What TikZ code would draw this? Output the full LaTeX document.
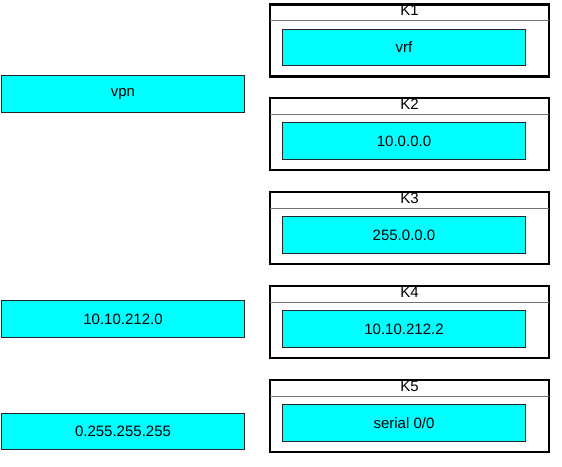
\documentclass[tikz,border=0pt]{standalone}
\usepackage{fontspec}
\setmainfont{Liberation Sans}
\usetikzlibrary{positioning}
\definecolor{aqua}{RGB}{0,255,255}

\begin{document}
\begin{tikzpicture}[x=1pt,y=-1pt,font=\fontsize{15}{17}\selectfont,
  kbox/.style={draw,line width=2.6pt,minimum width=279pt,minimum height=72pt,inner sep=0pt},
  cbox/.style={draw=black!85,line width=1.3pt,fill=aqua,minimum width=243pt,minimum height=36.5pt,inner sep=0pt},
  sep/.style={draw=black!55,line width=0.8pt,shorten <=1.3pt,shorten >=1.3pt}]
\useasboundingbox (0,0) rectangle (562,466);
% left column
\node[cbox] (vpn) at (123,94) {vpn};
\node[cbox] (net) at (123,319) {10.10.212.0};
\node[cbox] (wild) at (123,431.5) {0.255.255.255};
% K1
\node[kbox] (K1) at (409.5,40.5) {};
\node (K1t) at ([yshift=-7.5pt]K1.north) {K1};
\draw[sep] ([yshift=-17.5pt]K1.north west) -- ([yshift=-17.5pt]K1.north east);
\node[cbox] (vrf) at ([xshift=-5.5pt,yshift=-7pt]K1.center) {vrf};
% K2
\node[kbox] (K2) at (409.5,134) {};
\node (K2t) at ([yshift=-7.5pt]K2.north) {K2};
\draw[sep] ([yshift=-17.5pt]K2.north west) -- ([yshift=-17.5pt]K2.north east);
\node[cbox] (addr) at ([xshift=-5.5pt,yshift=-7pt]K2.center) {10.0.0.0};
% K3
\node[kbox] (K3) at (409.5,228) {};
\node (K3t) at ([yshift=-7.5pt]K3.north) {K3};
\draw[sep] ([yshift=-17.5pt]K3.north west) -- ([yshift=-17.5pt]K3.north east);
\node[cbox] (mask) at ([xshift=-5.5pt,yshift=-7pt]K3.center) {255.0.0.0};
% K4
\node[kbox] (K4) at (409.5,322) {};
\node (K4t) at ([yshift=-7.5pt]K4.north) {K4};
\draw[sep] ([yshift=-17.5pt]K4.north west) -- ([yshift=-17.5pt]K4.north east);
\node[cbox] (hop) at ([xshift=-5.5pt,yshift=-7pt]K4.center) {10.10.212.2};
% K5
\node[kbox] (K5) at (409.5,416) {};
\node (K5t) at ([yshift=-7.5pt]K5.north) {K5};
\draw[sep] ([yshift=-17.5pt]K5.north west) -- ([yshift=-17.5pt]K5.north east);
\node[cbox] (intf) at ([xshift=-5.5pt,yshift=-7pt]K5.center) {serial 0/0};
\end{tikzpicture}
\end{document}
